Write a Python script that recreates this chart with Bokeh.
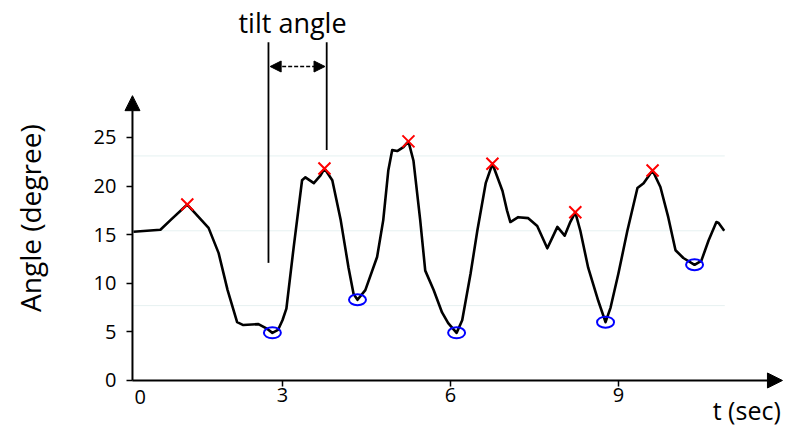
from bokeh.plotting import figure
from bokeh.models import Arrow, NormalHead, Label, FixedTicker, Range1d
from bokeh.embed import file_html
from bokeh.resources import INLINE

# Tilt angle trace over time
t_sec = [0.34, 0.82, 1.00, 1.30, 1.68, 1.86, 2.02, 2.19, 2.30, 2.57, 2.73, 2.82,
         2.92, 3.00, 3.07, 3.20, 3.35, 3.41, 3.56, 3.68, 3.75, 3.89, 4.04, 4.18,
         4.27, 4.34, 4.48, 4.69, 4.80, 4.89, 4.96, 5.05, 5.16, 5.25, 5.34, 5.46,
         5.55, 5.70, 5.85, 5.96, 6.11, 6.21, 6.36, 6.48, 6.63, 6.75, 6.93, 7.01,
         7.07, 7.21, 7.39, 7.55, 7.73, 7.82, 7.91, 8.04, 8.14, 8.23, 8.32, 8.46,
         8.64, 8.77, 8.86, 9.00, 9.16, 9.34, 9.45, 9.61, 9.75, 9.89, 10.02, 10.16,
         10.36, 10.48, 10.61, 10.75, 10.79, 10.89]
angle_deg = [15.3, 15.5, 16.5, 18.1, 15.7, 13.1, 9.3, 6.0, 5.7, 5.8, 5.3, 4.9,
             5.2, 6.2, 7.4, 13.7, 20.6, 20.9, 20.3, 21.1, 21.8, 20.6, 16.5, 11.6,
             8.9, 8.3, 9.3, 12.7, 16.5, 21.6, 23.7, 23.6, 24.0, 24.6, 22.6, 16.5,
             11.3, 9.3, 7.0, 5.9, 4.9, 6.2, 11.0, 15.4, 20.3, 22.3, 19.5, 17.5,
             16.3, 16.8, 16.7, 15.9, 13.6, 14.7, 15.8, 14.9, 16.3, 17.3, 15.4, 11.6,
             8.2, 6.0, 7.5, 11.0, 15.4, 19.8, 20.3, 21.6, 19.9, 16.8, 13.4, 12.6,
             11.9, 12.3, 14.4, 16.3, 16.2, 15.4]

# Detected peaks and troughs
peak_t = [1.30, 3.75, 5.25, 6.75, 8.23, 9.61]
peak_angle = [18.1, 21.8, 24.6, 22.3, 17.3, 21.6]
trough_t = [2.82, 4.34, 6.11, 8.77, 10.36]
trough_angle = [4.9, 8.3, 4.9, 6.0, 11.9]

# Axis ticks and light reference lines
y_ticks = [0, 5, 10, 15, 20, 25]
x_ticks = [3, 6, 9]
ref_levels = [7.7, 15.4, 23.1]

# Tilt angle bracket
bracket_t = [2.75, 3.79]
bracket_top = [34.8, 34.8]
bracket_bottom = [12.1, 23.7]
bracket_arrow_y = 32.3

X_START, X0, X_TIP, X_END = -2.036, 0.321, 11.93, 12.02
Y_START, Y_TIP, Y_END = -4.94, 29.3, 39.09
FONT = "Open Sans"

p = figure(width=787, height=428, output_backend="svg", toolbar_location=None,
           x_range=Range1d(X_START, X_END), y_range=Range1d(Y_START, Y_END),
           min_border_left=0, min_border_right=0, min_border_top=0,
           min_border_bottom=0)
p.outline_line_color = None
p.grid.visible = False
p.background_fill_color = "white"
p.border_fill_color = "white"

# faint horizontal reference lines
p.segment(x0=[X0] * len(ref_levels), x1=[10.9] * len(ref_levels),
          y0=ref_levels, y1=ref_levels, line_color="#e6f1f1", line_width=1)

# trace
p.line(t_sec, angle_deg, line_color="black", line_width=2.6, line_join="round")

p.scatter(peak_t, peak_angle, marker="x", size=17, line_color="red", line_width=2)
p.ellipse(x=trough_t, y=trough_angle, width=17, height=11,
          width_units="screen", height_units="screen",
          fill_color=None, line_color="blue", line_width=2)

# tilt angle bracket
p.segment(x0=bracket_t, x1=bracket_t, y0=bracket_bottom, y1=bracket_top,
          line_color="black", line_width=1.8)
p.add_layout(Arrow(x_start=bracket_t[0] + 0.03, x_end=bracket_t[1] - 0.03,
                   y_start=bracket_arrow_y, y_end=bracket_arrow_y,
                   line_color="black", line_width=1.5, line_dash="4 2",
                   start=NormalHead(size=11, fill_color="black", line_color="black"),
                   end=NormalHead(size=11, fill_color="black", line_color="black")))
p.add_layout(Label(x=3.18, y=36.8, text="tilt angle", text_align="center",
                   text_baseline="middle", text_font=FONT, text_font_size="27px",
                   text_color="black"))

# axes with arrow heads
p.add_layout(Arrow(x_start=X0, y_start=0, x_end=X_TIP, y_end=0,
                   line_color="black", line_width=2,
                   end=NormalHead(size=15, fill_color="black", line_color="black")))
p.add_layout(Arrow(x_start=X0, y_start=0, x_end=X0, y_end=Y_TIP,
                   line_color="black", line_width=2,
                   end=NormalHead(size=15, fill_color="black", line_color="black")))

for ax in (p.xaxis[0], p.yaxis[0]):
    ax.axis_line_color = None
    ax.major_tick_line_color = "black"
    ax.major_tick_line_width = 1.5
    ax.major_tick_in = 0
    ax.major_tick_out = 6
    ax.minor_tick_line_color = None
    ax.major_label_text_font = FONT
    ax.major_label_text_font_size = "20px"
    ax.major_label_text_color = "black"

# angle axis sits on t = X0 inside the frame
p.yaxis.ticker = FixedTicker(ticks=y_ticks)
p.yaxis.major_label_standoff = 10
p.yaxis.axis_label = "Angle  (degree)"
p.yaxis.axis_label_text_font = FONT
p.yaxis.axis_label_text_font_size = "28px"
p.yaxis.axis_label_text_font_style = "normal"
p.yaxis.axis_label_text_color = "black"
p.yaxis.axis_label_standoff = 42
p.yaxis.fixed_location = X0

# time axis sits on angle 0 inside the frame
p.xaxis.ticker = FixedTicker(ticks=x_ticks)
p.xaxis.major_label_standoff = 2
p.xaxis.fixed_location = 0

p.add_layout(Label(x=0.46, y=-1.75, text="0", text_align="center",
                   text_baseline="middle", text_font=FONT, text_font_size="20px",
                   text_color="black"))
p.add_layout(Label(x=11.9, y=-3.0, text="t (sec)", text_align="right",
                   text_baseline="middle", text_font=FONT, text_font_size="25px",
                   text_color="black"))

open("out.html", "w").write(file_html(p, INLINE))
